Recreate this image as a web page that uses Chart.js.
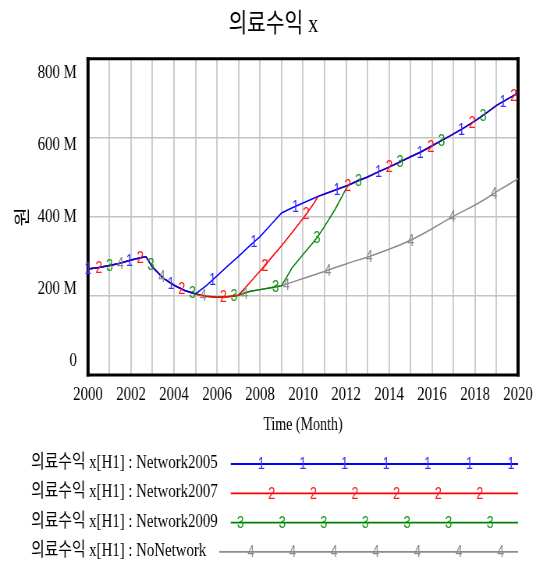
<!DOCTYPE html>
<html>
<head>
<meta charset="utf-8">
<script src="https://cdn.jsdelivr.net/npm/chart.js@4/dist/chart.umd.min.js"></script>
<style>
  html, body { margin: 0; padding: 0; background: #fff; overflow: hidden; }
</style>
</head>
<body>
<!-- the drawing surface is wider than its box, which gives the narrow, tall lettering -->
<canvas id="c" width="687" height="565" style="display:block;width:536px;height:565px"></canvas>
<script>
// Time (years) and 의료수익 x per scenario, in millions of 원
const years = [2000, 2000.5, 2001, 2001.5, 2002, 2002.5, 2002.7, 2003, 2003.5, 2004, 2004.5, 2005,
  2005.5, 2006, 2006.5, 2007, 2007.5, 2008, 2008.5, 2009, 2009.5, 2010, 2010.5,
  2010.7, 2011, 2011.5, 2012, 2012.1,
  2012.5, 2013, 2013.5, 2014, 2014.5, 2015, 2015.5, 2016, 2016.5, 2017, 2017.5, 2018, 2018.5, 2019, 2019.5, 2020];

const network2005 = [268, 272, 277, 283, 291, 297, 299, 273, 245, 227, 214, 205,
  226, 251, 276, 300, 326, 350, 380, 410, 423, 435, 447,
  452, 458, 468, 478, 480,
  490, 501, 514, 526, 539, 552, 565, 580, 595, 610, 626, 643, 662, 682, 698, 713];

const network2007 = [268, 272, 277, 283, 291, 297, 299, 273, 245, 227, 214, 205,
  199, 197, 198, 202, 232, 263, 295, 327, 361, 396, 434,
  452, 458, 468, 478, 480,
  490, 501, 514, 526, 539, 552, 565, 580, 595, 610, 626, 643, 662, 682, 698, 713];

const network2009 = [268, 272, 277, 283, 291, 297, 299, 273, 245, 227, 214, 205,
  199, 197, 198, 202, 211, 216, 221, 226, 272, 305, 337,
  351, 376, 420, 471, 480,
  490, 501, 514, 526, 539, 552, 565, 580, 595, 610, 626, 643, 662, 682, 698, 713];

const noNetwork = [268, 272, 277, 283, 291, 297, 299, 273, 245, 227, 214, 205,
  199, 197, 198, 202, 211, 216, 221, 226, 235, 244, 253,
  257, 262, 272, 281, 283,
  290, 298, 308, 318, 329, 341, 355, 370, 386, 402, 416, 430, 446, 464, 480, 497];

const seriesNames = ['의료수익 x[H1] : Network2005', '의료수익 x[H1] : Network2007',
  '의료수익 x[H1] : Network2009', '의료수익 x[H1] : NoNetwork'];
const seriesMarks = ['1', '2', '3', '4'];
const seriesColors = ['#0000ff', '#ff0000', '#008000', '#8c8c8c'];
const markColors = ['#3535ff', '#ff1a1a', '#16961a', '#8c8c8c'];

const yTickValues = [0, 200, 400, 600, 800];
const yTickLabels = ['0', '200 M', '400 M', '600 M', '800 M'];
const xTickLabels = ['2000', '2002', '2004', '2006', '2008', '2010', '2012', '2014', '2016', '2018', '2020'];

const SERIF = "'Liberation Serif', 'Noto Sans CJK KR', serif";
const SANS = "'Liberation Sans', Arial, sans-serif";

// numbered markers along the curves: first position per series, and spacing (years)
const markStart = [2000, 2000.5, 2001, 2001.5];
const markStep = 1.93;

function valueAt(series, t) {
  for (let i = 1; i < years.length; i++) {
    if (t <= years[i]) {
      const f = (t - years[i - 1]) / (years[i] - years[i - 1]);
      return series[i - 1] + f * (series[i] - series[i - 1]);
    }
  }
  return series[series.length - 1];
}

const allSeries = [network2005, network2007, network2009, noNetwork];

const overlay = {
  id: 'overlay',
  beforeDatasetsDraw(chart) {
    const { ctx, chartArea: a } = chart;
    ctx.save();
    ctx.strokeStyle = '#000';
    ctx.lineWidth = 4;
    ctx.beginPath();
    ctx.moveTo(a.left, a.top - 1.5); ctx.lineTo(a.left, a.bottom + 1.5);
    ctx.moveTo(a.right, a.top - 1.5); ctx.lineTo(a.right, a.bottom + 1.5);
    ctx.stroke();
    ctx.lineWidth = 3;
    ctx.beginPath();
    ctx.moveTo(a.left - 2, a.top); ctx.lineTo(a.right + 2, a.top);
    ctx.moveTo(a.left - 2, a.bottom); ctx.lineTo(a.right + 2, a.bottom);
    ctx.stroke();
    ctx.restore();
  },
  afterDatasetsDraw(chart) {
    const { ctx } = chart;
    const xs = chart.scales.x, ys = chart.scales.y;
    ctx.save();
    ctx.font = '16px ' + SANS;
    ctx.textAlign = 'center';
    ctx.textBaseline = 'middle';
    for (let s = allSeries.length - 1; s >= 0; s--) {
      ctx.fillStyle = markColors[s];
      for (let t = markStart[s]; t <= 2020.001; t += markStep) {
        const px = xs.getPixelForValue(t);
        const py = ys.getPixelForValue(valueAt(allSeries[s], t));
        ctx.fillText(seriesMarks[s], px, py + 1);
      }
    }
    ctx.restore();
  },
  afterDraw(chart) {
    const { ctx } = chart;
    const left = 39.7, top = 463, row = 29.3;
    const lineEnd = chart.chartArea.right;
    const markPhase = [2, 3, 0, 1];
    ctx.save();
    chart.data.datasets.forEach((ds, i) => {
      const y = top + i * row;
      ctx.font = '19px ' + SERIF;
      ctx.textAlign = 'left';
      ctx.textBaseline = 'middle';
      ctx.fillStyle = '#000';
      ctx.fillText(ds.label, left, y);
      const lineStart = left + ctx.measureText(ds.label).width + 16.7;
      ctx.strokeStyle = ds.borderColor;
      ctx.lineWidth = 1.8;
      ctx.beginPath();
      ctx.moveTo(lineStart, y + 1); ctx.lineTo(lineEnd, y + 1);
      ctx.stroke();
      ctx.font = '16px ' + SANS;
      ctx.textAlign = 'center';
      ctx.fillStyle = markColors[i];
      for (let x = 308.3 + 13.33 * markPhase[i]; x <= lineEnd; x += 53.33) {
        if (x >= lineStart + 2) ctx.fillText(seriesMarks[i], x, y + 2);
      }
    });
    ctx.restore();
  }
};

const datasets = allSeries.map((series, i) => ({
  label: seriesNames[i],
  data: years.map((x, k) => ({ x, y: series[k] })),
  borderColor: seriesColors[i],
  backgroundColor: seriesColors[i],
  borderWidth: 1.5,
  pointRadius: 0,
  tension: 0,
  fill: false,
  yAxisID: 'y'
}));

new Chart(document.getElementById('c'), {
  type: 'line',
  data: { datasets },
  plugins: [overlay],
  options: {
    responsive: false,
    devicePixelRatio: 1,
    animation: false,
    events: [],
    layout: { padding: { left: 14, right: 0, top: 0, bottom: 126.6 } },
    plugins: {
      legend: { display: false },
      tooltip: { enabled: false },
      title: {
        display: true,
        text: '의료수익 x',
        color: '#000',
        font: { family: SERIF, size: 26, weight: 'normal' },
        padding: { top: 10, bottom: 17.6 }
      }
    },
    scales: {
      x: {
        type: 'linear',
        min: 2000,
        max: 2020,
        border: { display: false },
        grid: { color: '#cccccc', lineWidth: 2, drawTicks: true, tickLength: 9, tickColor: 'rgba(0,0,0,0)' },
        ticks: {
          stepSize: 1,
          autoSkip: false,
          maxRotation: 0,
          minRotation: 0,
          padding: 0,
          color: '#000',
          font: { family: SERIF, size: 19 },
          callback: (v) => (v % 2 === 0 ? xTickLabels[(v - 2000) / 2] : '')
        },
        title: {
          display: true,
          text: 'Time (Month)',
          color: '#000',
          font: { family: SERIF, size: 18 },
          padding: { top: 8, bottom: 2 }
        }
      },
      y: {
        type: 'linear',
        position: 'left',
        min: 0,
        max: 800,
        border: { display: false },
        grid: { color: '#c4c4c4', lineWidth: 1.5, drawTicks: false },
        ticks: { display: false },
        afterBuildTicks: (s) => { s.ticks = yTickValues.map(v => ({ value: v })); },
        afterFit: (s) => { s.width = 0; }
      },
      yl: {
        type: 'linear',
        position: 'left',
        min: 0,
        max: 800,
        border: { display: false },
        grid: { display: false },
        ticks: {
          padding: 6.3,
          color: '#000',
          font: { family: SERIF, size: 19 },
          callback: (v, i) => yTickLabels[i]
        },
        // labels sit evenly inside the axis, a little in from each end
        afterBuildTicks: (s) => { s.ticks = yTickValues.map(v => ({ value: 35.4 + v * 0.91 })); },
        title: {
          display: true,
          text: '원',
          color: '#000',
          font: { family: "'Noto Sans CJK KR', sans-serif", size: 21 },
          padding: { top: 0, bottom: 0 }
        },
        afterFit: (s) => { s.width = 98.8; }
      },
      yr: {
        type: 'linear',
        position: 'right',
        display: true,
        border: { display: false },
        grid: { display: false },
        ticks: { display: false },
        afterFit: (s) => { s.width = 23; }
      }
    }
  }
});
</script>
</body>
</html>
